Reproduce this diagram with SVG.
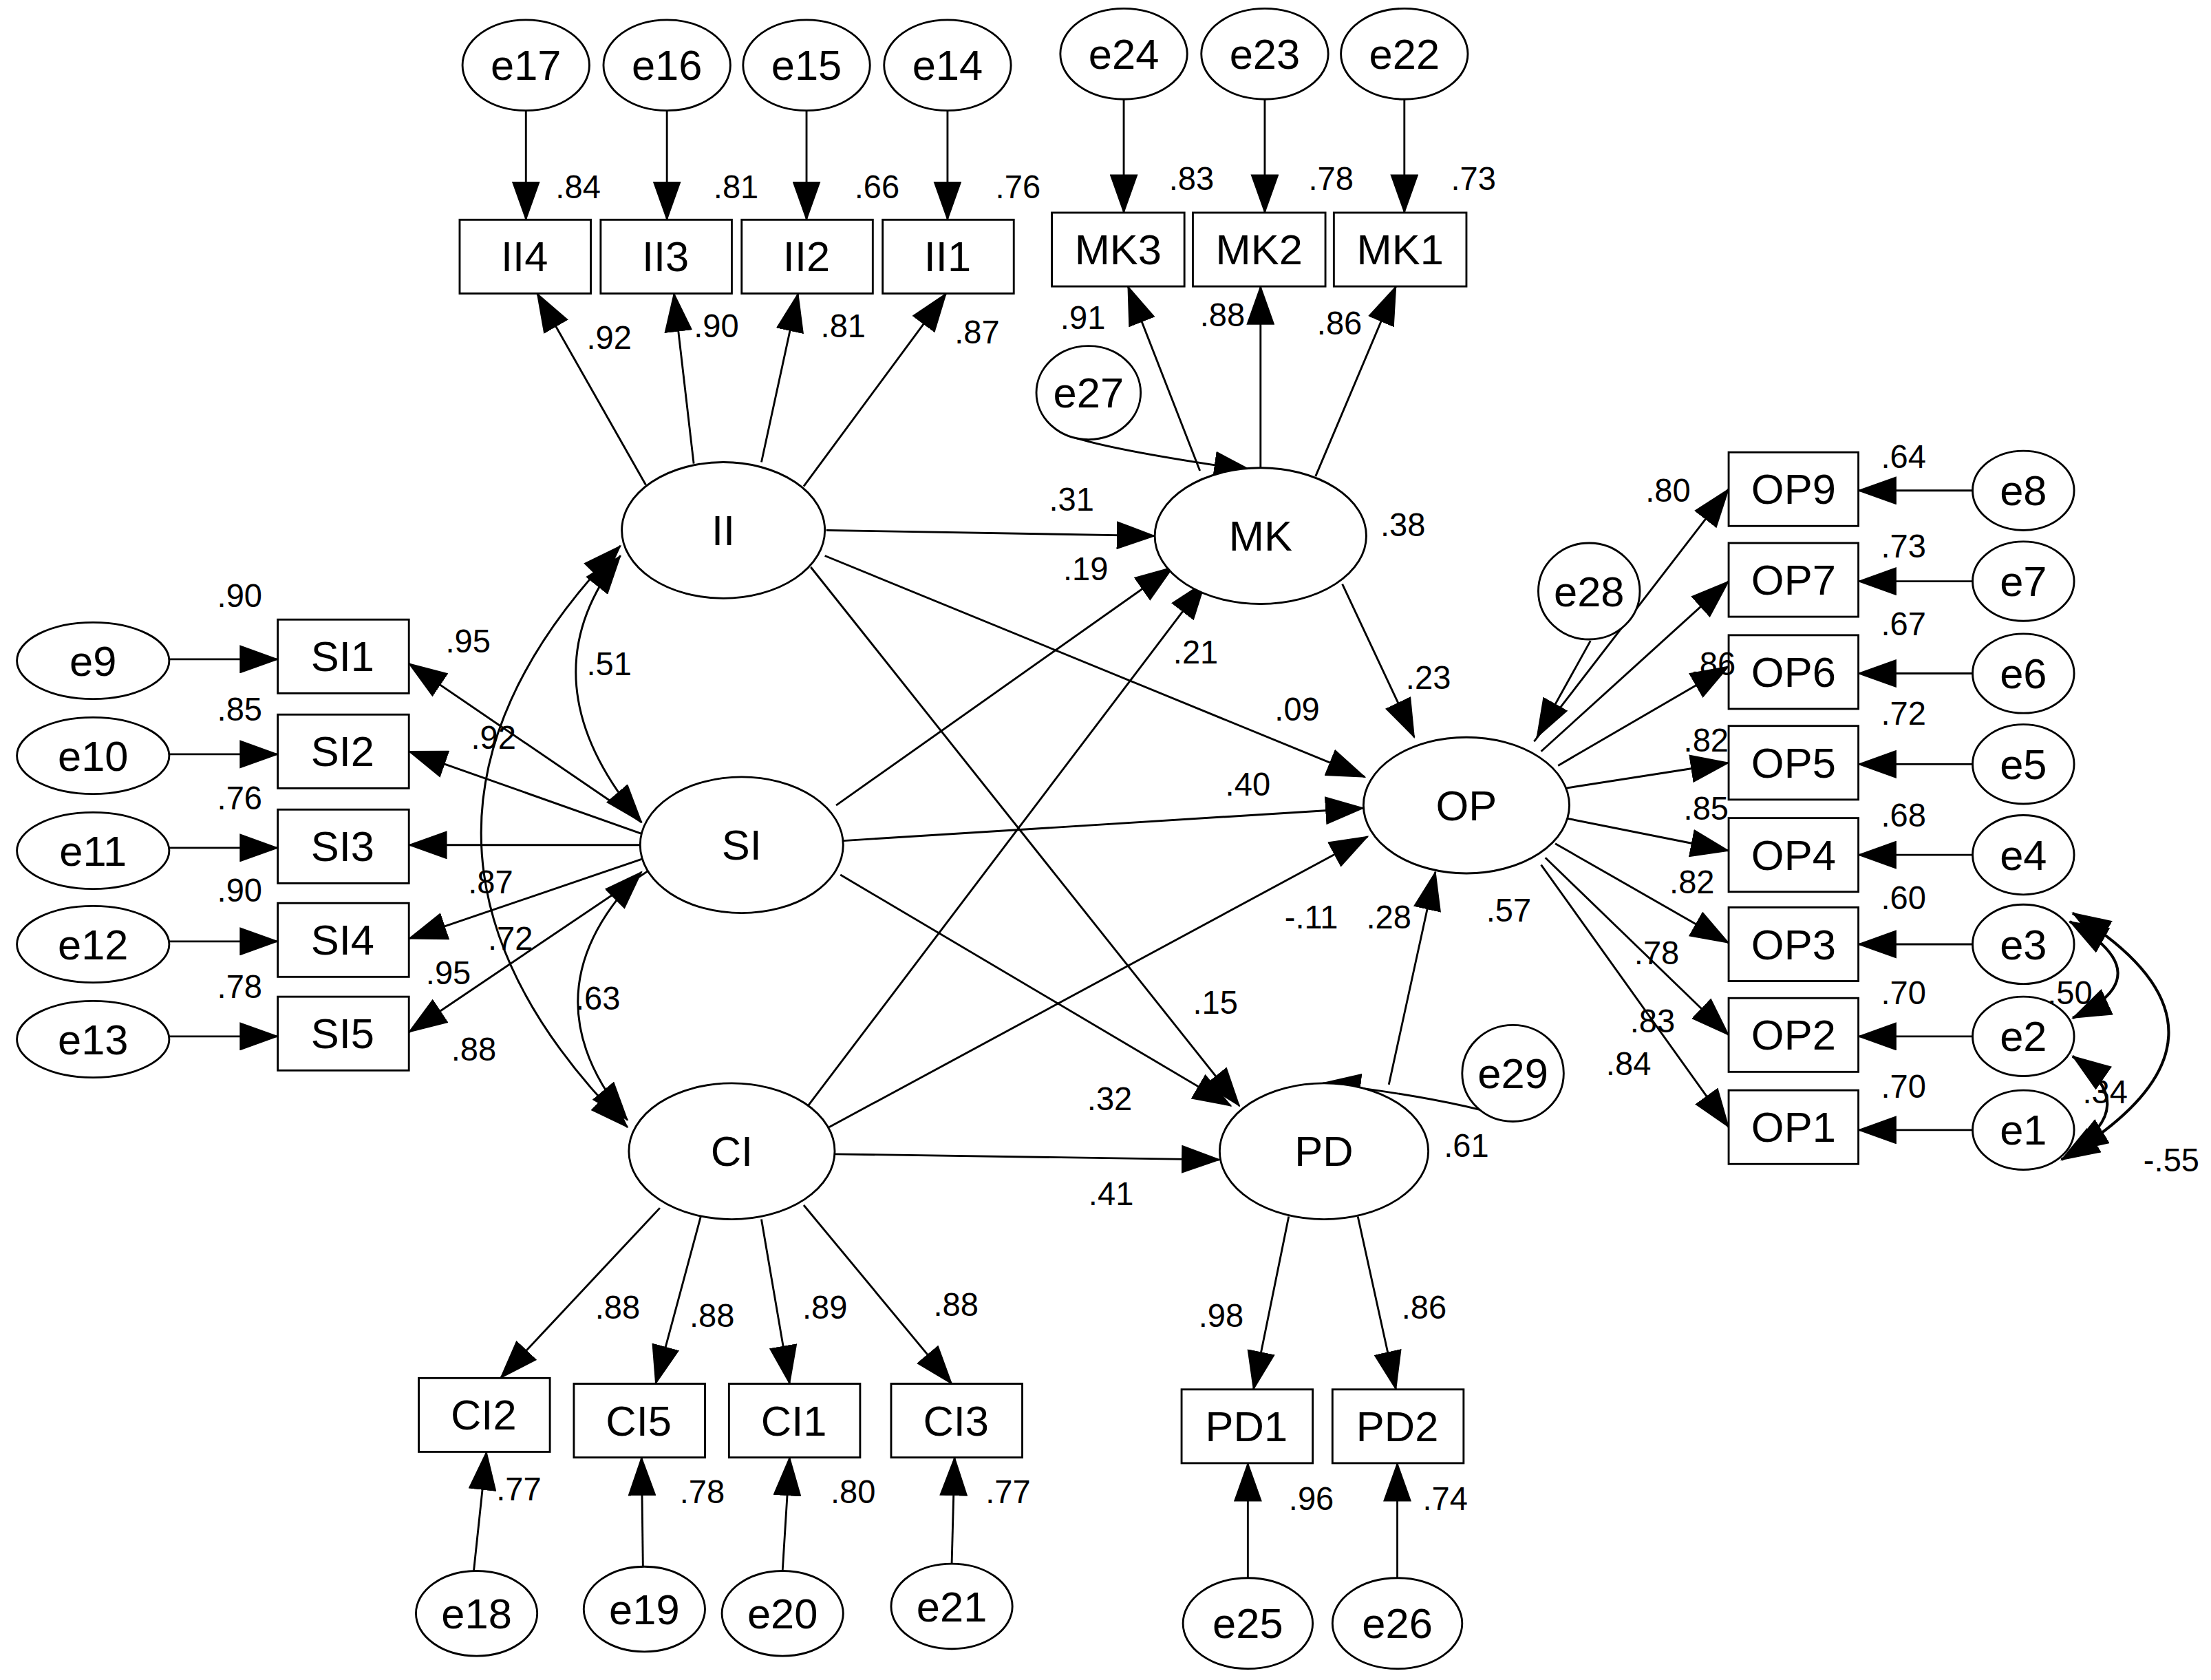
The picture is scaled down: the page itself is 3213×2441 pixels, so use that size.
<svg xmlns="http://www.w3.org/2000/svg" width="3213" height="2441" viewBox="0 0 3213 2441">
<style>
.n{fill:#fff;stroke:#000;stroke-width:1.4}
.t{font-family:"Liberation Sans",Arial,sans-serif;font-size:30px;text-anchor:middle;dominant-baseline:central}
.l{font-family:"Liberation Sans",Arial,sans-serif;font-size:23px;text-anchor:middle;dominant-baseline:central}
.c line,.c path{stroke:#000;stroke-width:1.4;fill:none;marker-end:url(#a)}
.c .b{marker-start:url(#a);stroke-width:2}
</style>
<defs><marker id="a" markerUnits="userSpaceOnUse" markerWidth="28" markerHeight="20" refX="27" refY="10" orient="auto-start-reverse"><path d="M0,0 L28,10 L0,20 z" fill="#000"/></marker></defs>
<rect width="3213" height="2441" fill="#fff"/>
<g transform="scale(2.049,2.06)">
<g class="c" id="connectors">
<line x1="373" y1="78" x2="373" y2="155"/><line x1="473" y1="78" x2="473" y2="155"/><line x1="572" y1="78" x2="572" y2="155"/><line x1="672" y1="78" x2="672" y2="155"/>
<line x1="797" y1="70" x2="797" y2="150"/><line x1="897" y1="70" x2="897" y2="150"/><line x1="996" y1="70" x2="996" y2="150"/>
<line x1="458" y1="342" x2="381" y2="207"/><line x1="492" y1="327" x2="478" y2="207"/><line x1="540" y1="326" x2="566" y2="207"/><line x1="570" y1="343" x2="671" y2="207"/>
<line x1="851" y1="332" x2="800" y2="202"/><line x1="894" y1="330" x2="894" y2="202"/><line x1="933" y1="336" x2="990" y2="202"/>
<path d="M760,308 Q790,318 888,332"/>
<line x1="586" y1="374" x2="819" y2="378"/><line x1="585" y1="392" x2="968" y2="548"/><line x1="575" y1="400" x2="879" y2="780"/>
<line x1="593" y1="568" x2="832" y2="400"/><line x1="598" y1="593" x2="967" y2="570"/><line x1="596" y1="617" x2="873" y2="780"/>
<line x1="573" y1="780" x2="855" y2="410"/><line x1="588" y1="795" x2="970" y2="590"/><line x1="592" y1="814" x2="865" y2="818"/>
<line x1="952" y1="412" x2="1003" y2="520"/><line x1="985" y1="765" x2="1018" y2="615"/><line x1="1128" y1="452" x2="1090" y2="520"/>
<path d="M1075,790 Q1030,775 938,764"/>
<line x1="1088" y1="523" x2="1226" y2="345"/><line x1="1093" y1="530" x2="1226" y2="410"/><line x1="1105" y1="540" x2="1226" y2="470"/><line x1="1110" y1="556" x2="1226" y2="538"/><line x1="1110" y1="577" x2="1226" y2="600"/><line x1="1103" y1="595" x2="1226" y2="665"/><line x1="1096" y1="605" x2="1226" y2="730"/><line x1="1093" y1="610" x2="1226" y2="795"/>
<line x1="1399" y1="346" x2="1318" y2="346"/><line x1="1399" y1="410" x2="1318" y2="410"/><line x1="1399" y1="475" x2="1318" y2="475"/><line x1="1399" y1="539" x2="1318" y2="539"/><line x1="1399" y1="603" x2="1318" y2="603"/><line x1="1399" y1="666" x2="1318" y2="666"/><line x1="1399" y1="731" x2="1318" y2="731"/><line x1="1399" y1="797" x2="1318" y2="797"/>
<line x1="120" y1="465" x2="197" y2="465"/><line x1="120" y1="532" x2="197" y2="532"/><line x1="120" y1="598" x2="197" y2="598"/><line x1="120" y1="664" x2="197" y2="664"/><line x1="120" y1="731" x2="197" y2="731"/>
<line x1="455" y1="580" x2="290" y2="468"/><line x1="455" y1="588" x2="290" y2="530"/><line x1="455" y1="596" x2="290" y2="596"/><line x1="455" y1="606" x2="290" y2="662"/><line x1="460" y1="614" x2="290" y2="728"/>
<path class="b" d="M440,392 Q370,480 455,580" style="stroke-width:1.4"/><path class="b" d="M455,615 Q370,700 445,790" style="stroke-width:1.4"/><path class="b" d="M440,385 Q240,590 445,795" style="stroke-width:1.4"/>
<path class="b" d="M1468,650 Q1535,688 1470,718"/><path class="b" d="M1470,745 Q1520,780 1468,812"/><path class="b" d="M1470,644 Q1610,730 1462,818"/>
<line x1="468" y1="852" x2="355" y2="972"/><line x1="497" y1="858" x2="465" y2="976"/><line x1="540" y1="860" x2="560" y2="976"/><line x1="570" y1="850" x2="675" y2="976"/>
<line x1="336" y1="1108" x2="345" y2="1024"/><line x1="456" y1="1105" x2="455" y2="1028"/><line x1="555" y1="1108" x2="560" y2="1028"/><line x1="675" y1="1103" x2="677" y2="1028"/>
<line x1="914" y1="858" x2="889" y2="980"/><line x1="963" y1="858" x2="990" y2="980"/><line x1="885" y1="1113" x2="885" y2="1032"/><line x1="991" y1="1113" x2="991" y2="1032"/>
</g>
<g id="II"><ellipse class="n" cx="513" cy="374" rx="72" ry="48"/><text class="t" x="513" y="374">II</text></g>
<g id="MK"><ellipse class="n" cx="894" cy="378" rx="75" ry="48"/><text class="t" x="894" y="378">MK</text></g>
<g id="SI"><ellipse class="n" cx="526" cy="596" rx="72" ry="48"/><text class="t" x="526" y="596">SI</text></g>
<g id="OP"><ellipse class="n" cx="1040" cy="568" rx="73" ry="48"/><text class="t" x="1040" y="568">OP</text></g>
<g id="CI"><ellipse class="n" cx="519" cy="812" rx="73" ry="48"/><text class="t" x="519" y="812">CI</text></g>
<g id="PD"><ellipse class="n" cx="939" cy="812" rx="74" ry="48"/><text class="t" x="939" y="812">PD</text></g>
<g id="e17"><ellipse class="n" cx="373" cy="46" rx="45" ry="32"/><text class="t" x="373" y="46">e17</text></g>
<g id="e16"><ellipse class="n" cx="473" cy="46" rx="45" ry="32"/><text class="t" x="473" y="46">e16</text></g>
<g id="e15"><ellipse class="n" cx="572" cy="46" rx="45" ry="32"/><text class="t" x="572" y="46">e15</text></g>
<g id="e14"><ellipse class="n" cx="672" cy="46" rx="45" ry="32"/><text class="t" x="672" y="46">e14</text></g>
<g id="e24"><ellipse class="n" cx="797" cy="38" rx="45" ry="32"/><text class="t" x="797" y="38">e24</text></g>
<g id="e23"><ellipse class="n" cx="897" cy="38" rx="45" ry="32"/><text class="t" x="897" y="38">e23</text></g>
<g id="e22"><ellipse class="n" cx="996" cy="38" rx="45" ry="32"/><text class="t" x="996" y="38">e22</text></g>
<g id="e27"><ellipse class="n" cx="772" cy="277" rx="37" ry="33"/><text class="t" x="772" y="277">e27</text></g>
<g id="e28"><ellipse class="n" cx="1127" cy="417" rx="36" ry="34"/><text class="t" x="1127" y="417">e28</text></g>
<g id="e29"><ellipse class="n" cx="1073" cy="757" rx="36" ry="34"/><text class="t" x="1073" y="757">e29</text></g>
<g id="e8"><ellipse class="n" cx="1435" cy="346" rx="36" ry="28"/><text class="t" x="1435" y="346">e8</text></g>
<g id="e7"><ellipse class="n" cx="1435" cy="410" rx="36" ry="28"/><text class="t" x="1435" y="410">e7</text></g>
<g id="e6"><ellipse class="n" cx="1435" cy="475" rx="36" ry="28"/><text class="t" x="1435" y="475">e6</text></g>
<g id="e5"><ellipse class="n" cx="1435" cy="539" rx="36" ry="28"/><text class="t" x="1435" y="539">e5</text></g>
<g id="e4"><ellipse class="n" cx="1435" cy="603" rx="36" ry="28"/><text class="t" x="1435" y="603">e4</text></g>
<g id="e3"><ellipse class="n" cx="1435" cy="666" rx="36" ry="28"/><text class="t" x="1435" y="666">e3</text></g>
<g id="e2"><ellipse class="n" cx="1435" cy="731" rx="36" ry="28"/><text class="t" x="1435" y="731">e2</text></g>
<g id="e1"><ellipse class="n" cx="1435" cy="797" rx="36" ry="28"/><text class="t" x="1435" y="797">e1</text></g>
<g id="e9"><ellipse class="n" cx="66" cy="466" rx="54" ry="27"/><text class="t" x="66" y="466">e9</text></g>
<g id="e10"><ellipse class="n" cx="66" cy="533" rx="54" ry="27"/><text class="t" x="66" y="533">e10</text></g>
<g id="e11"><ellipse class="n" cx="66" cy="600" rx="54" ry="27"/><text class="t" x="66" y="600">e11</text></g>
<g id="e12"><ellipse class="n" cx="66" cy="666" rx="54" ry="27"/><text class="t" x="66" y="666">e12</text></g>
<g id="e13"><ellipse class="n" cx="66" cy="733" rx="54" ry="27"/><text class="t" x="66" y="733">e13</text></g>
<g id="e18"><ellipse class="n" cx="338" cy="1138" rx="43" ry="30"/><text class="t" x="338" y="1138">e18</text></g>
<g id="e19"><ellipse class="n" cx="457" cy="1135" rx="43" ry="30"/><text class="t" x="457" y="1135">e19</text></g>
<g id="e20"><ellipse class="n" cx="555" cy="1138" rx="43" ry="30"/><text class="t" x="555" y="1138">e20</text></g>
<g id="e21"><ellipse class="n" cx="675" cy="1133" rx="43" ry="30"/><text class="t" x="675" y="1133">e21</text></g>
<g id="e25"><ellipse class="n" cx="885" cy="1145" rx="46" ry="32"/><text class="t" x="885" y="1145">e25</text></g>
<g id="e26"><ellipse class="n" cx="991" cy="1145" rx="46" ry="32"/><text class="t" x="991" y="1145">e26</text></g>
<g id="II4"><rect class="n" x="326" y="155" width="93" height="52"/><text class="t" x="372" y="181">II4</text></g>
<g id="II3"><rect class="n" x="426" y="155" width="93" height="52"/><text class="t" x="472" y="181">II3</text></g>
<g id="II2"><rect class="n" x="526" y="155" width="93" height="52"/><text class="t" x="572" y="181">II2</text></g>
<g id="II1"><rect class="n" x="626" y="155" width="93" height="52"/><text class="t" x="672" y="181">II1</text></g>
<g id="MK3"><rect class="n" x="746" y="150" width="94" height="52"/><text class="t" x="793" y="176">MK3</text></g>
<g id="MK2"><rect class="n" x="846" y="150" width="94" height="52"/><text class="t" x="893" y="176">MK2</text></g>
<g id="MK1"><rect class="n" x="946" y="150" width="94" height="52"/><text class="t" x="993" y="176">MK1</text></g>
<g id="SI1"><rect class="n" x="197" y="437" width="93" height="52"/><text class="t" x="243" y="463">SI1</text></g>
<g id="SI2"><rect class="n" x="197" y="504" width="93" height="52"/><text class="t" x="243" y="530">SI2</text></g>
<g id="SI3"><rect class="n" x="197" y="571" width="93" height="52"/><text class="t" x="243" y="597">SI3</text></g>
<g id="SI4"><rect class="n" x="197" y="637" width="93" height="52"/><text class="t" x="243" y="663">SI4</text></g>
<g id="SI5"><rect class="n" x="197" y="703" width="93" height="52"/><text class="t" x="243" y="729">SI5</text></g>
<g id="OP9"><rect class="n" x="1226" y="319" width="92" height="52"/><text class="t" x="1272" y="345">OP9</text></g>
<g id="OP7"><rect class="n" x="1226" y="383" width="92" height="52"/><text class="t" x="1272" y="409">OP7</text></g>
<g id="OP6"><rect class="n" x="1226" y="448" width="92" height="52"/><text class="t" x="1272" y="474">OP6</text></g>
<g id="OP5"><rect class="n" x="1226" y="512" width="92" height="52"/><text class="t" x="1272" y="538">OP5</text></g>
<g id="OP4"><rect class="n" x="1226" y="577" width="92" height="52"/><text class="t" x="1272" y="603">OP4</text></g>
<g id="OP3"><rect class="n" x="1226" y="640" width="92" height="52"/><text class="t" x="1272" y="666">OP3</text></g>
<g id="OP2"><rect class="n" x="1226" y="704" width="92" height="52"/><text class="t" x="1272" y="730">OP2</text></g>
<g id="OP1"><rect class="n" x="1226" y="769" width="92" height="52"/><text class="t" x="1272" y="795">OP1</text></g>
<g id="CI2"><rect class="n" x="297" y="972" width="93" height="52"/><text class="t" x="343" y="998">CI2</text></g>
<g id="CI5"><rect class="n" x="407" y="976" width="93" height="52"/><text class="t" x="453" y="1002">CI5</text></g>
<g id="CI1"><rect class="n" x="517" y="976" width="93" height="52"/><text class="t" x="563" y="1002">CI1</text></g>
<g id="CI3"><rect class="n" x="632" y="976" width="93" height="52"/><text class="t" x="678" y="1002">CI3</text></g>
<g id="PD1"><rect class="n" x="838" y="980" width="93" height="52"/><text class="t" x="884" y="1006">PD1</text></g>
<g id="PD2"><rect class="n" x="945" y="980" width="93" height="52"/><text class="t" x="991" y="1006">PD2</text></g>
<g id="labels">
<text class="l" x="410" y="132">.84</text><text class="l" x="522" y="132">.81</text><text class="l" x="622" y="132">.66</text><text class="l" x="722" y="132">.76</text>
<text class="l" x="845" y="126">.83</text><text class="l" x="944" y="126">.78</text><text class="l" x="1045" y="126">.73</text>
<text class="l" x="432" y="238">.92</text><text class="l" x="508" y="230">.90</text><text class="l" x="598" y="230">.81</text><text class="l" x="693" y="234">.87</text>
<text class="l" x="768" y="224">.91</text><text class="l" x="867" y="222">.88</text><text class="l" x="950" y="228">.86</text>
<text class="l" x="760" y="352">.31</text><text class="l" x="770" y="401">.19</text><text class="l" x="995" y="370">.38</text><text class="l" x="848" y="460">.21</text>
<text class="l" x="920" y="500">.09</text><text class="l" x="1013" y="478">.23</text><text class="l" x="885" y="553">.40</text><text class="l" x="432" y="468">.51</text>
<text class="l" x="332" y="452">.95</text><text class="l" x="350" y="520">.92</text><text class="l" x="348" y="622">.87</text><text class="l" x="362" y="662">.72</text>
<text class="l" x="318" y="686">.95</text><text class="l" x="336" y="740">.88</text><text class="l" x="424" y="704">.63</text>
<text class="l" x="170" y="420">.90</text><text class="l" x="170" y="500">.85</text><text class="l" x="170" y="563">.76</text><text class="l" x="170" y="628">.90</text><text class="l" x="170" y="696">.78</text>
<text class="l" x="930" y="647">-.11</text><text class="l" x="985" y="647">.28</text><text class="l" x="1070" y="642">.57</text><text class="l" x="862" y="707">.15</text>
<text class="l" x="787" y="775">.32</text><text class="l" x="788" y="842">.41</text><text class="l" x="1040" y="808">.61</text>
<text class="l" x="1183" y="346">.80</text><text class="l" x="1350" y="322">.64</text><text class="l" x="1350" y="385">.73</text><text class="l" x="1215" y="468">.86</text>
<text class="l" x="1350" y="440">.67</text><text class="l" x="1210" y="522">.82</text><text class="l" x="1350" y="503">.72</text><text class="l" x="1210" y="570">.85</text>
<text class="l" x="1350" y="575">.68</text><text class="l" x="1200" y="622">.82</text><text class="l" x="1350" y="633">.60</text><text class="l" x="1175" y="672">.78</text>
<text class="l" x="1350" y="700">.70</text><text class="l" x="1172" y="720">.83</text><text class="l" x="1155" y="750">.84</text><text class="l" x="1350" y="766">.70</text>
<text class="l" x="1468" y="700">.50</text><text class="l" x="1493" y="770">.34</text><text class="l" x="1540" y="818">-.55</text>
<text class="l" x="438" y="922">.88</text><text class="l" x="505" y="928">.88</text><text class="l" x="585" y="922">.89</text><text class="l" x="678" y="920">.88</text>
<text class="l" x="368" y="1050">.77</text><text class="l" x="498" y="1052">.78</text><text class="l" x="605" y="1052">.80</text><text class="l" x="715" y="1052">.77</text>
<text class="l" x="866" y="928">.98</text><text class="l" x="1010" y="922">.86</text><text class="l" x="930" y="1057">.96</text><text class="l" x="1025" y="1057">.74</text>
</g>
</g>
</svg>
